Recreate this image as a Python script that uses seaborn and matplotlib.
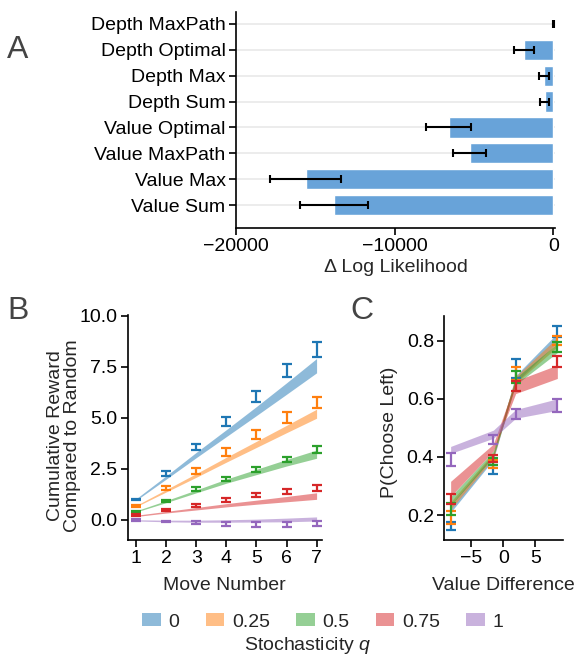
import numpy as np
import pandas as pd
import matplotlib
matplotlib.use("Agg")
import matplotlib.pyplot as plt
from matplotlib.patches import Patch
import seaborn as sns

# ---------------- data ----------------
# Panel A
models = ["Depth MaxPath", "Depth Optimal", "Depth Max", "Depth Sum",
          "Value Optimal", "Value MaxPath", "Value Max", "Value Sum"]
delta_ll = [0, -1860, -610, -560, -6600, -5280, -15620, -13830]
delta_ll_err = [40, 640, 310, 310, 1400, 1060, 2220, 2140]

# Panel B
moves = [1, 2, 3, 4, 5, 6, 7]
q_labels = ["0", "0.25", "0.5", "0.75", "1"]
reward_q0 = [1.01, 2.28, 3.56, 4.80, 6.04, 7.32, 8.34]
reward_q025 = [0.69, 1.57, 2.41, 3.31, 4.18, 5.01, 5.76]
reward_q05 = [0.39, 0.91, 1.52, 2.01, 2.45, 2.95, 3.44]
reward_q075 = [0.23, 0.49, 0.72, 0.98, 1.22, 1.40, 1.55]
reward_q1 = [0.00, -0.08, -0.11, -0.18, -0.24, -0.24, -0.16]
reward_err_q0 = [0.04, 0.11, 0.16, 0.22, 0.25, 0.33, 0.37]
reward_err_q025 = [0.04, 0.08, 0.15, 0.20, 0.22, 0.28, 0.28]
reward_err_q05 = [0.05, 0.05, 0.08, 0.10, 0.12, 0.13, 0.16]
reward_err_q075 = [0.05, 0.07, 0.08, 0.10, 0.11, 0.12, 0.15]
reward_err_q1 = [0.03, 0.04, 0.08, 0.10, 0.12, 0.12, 0.12]
model_q0 = [1.00, 2.08, 3.18, 4.25, 5.33, 6.43, 7.55]
model_q025 = [0.68, 1.43, 2.18, 2.95, 3.70, 4.45, 5.20]
model_q05 = [0.42, 0.90, 1.40, 1.90, 2.35, 2.80, 3.22]
model_q075 = [0.20, 0.38, 0.55, 0.72, 0.87, 1.02, 1.17]
model_q1 = [-0.02, -0.05, -0.06, -0.05, -0.03, 0.00, 0.05]
model_w_q0 = [0.04, 0.08, 0.13, 0.17, 0.22, 0.28, 0.35]
model_w_q025 = [0.03, 0.06, 0.09, 0.12, 0.15, 0.18, 0.22]
model_w_q05 = [0.03, 0.05, 0.07, 0.10, 0.13, 0.16, 0.20]
model_w_q075 = [0.03, 0.04, 0.06, 0.08, 0.10, 0.13, 0.16]
model_w_q1 = [0.03, 0.04, 0.05, 0.06, 0.07, 0.09, 0.10]

# Panel C
value_diff = [-8.23, -1.56, 1.93, 8.44]
pleft_q0 = [0.163, 0.356, 0.703, 0.831]
pleft_q025 = [0.192, 0.376, 0.688, 0.801]
pleft_q05 = [0.220, 0.383, 0.675, 0.778]
pleft_q075 = [0.256, 0.395, 0.645, 0.728]
pleft_q1 = [0.390, 0.460, 0.549, 0.578]
pleft_err_q0 = [0.014, 0.016, 0.033, 0.019]
pleft_err_q025 = [0.023, 0.013, 0.023, 0.016]
pleft_err_q05 = [0.020, 0.012, 0.020, 0.018]
pleft_err_q075 = [0.018, 0.012, 0.017, 0.019]
pleft_err_q1 = [0.022, 0.015, 0.017, 0.022]
pmodel_q0 = [0.222, 0.400, 0.668, 0.810]
pmodel_q025 = [0.232, 0.405, 0.665, 0.795]
pmodel_q05 = [0.248, 0.410, 0.660, 0.775]
pmodel_q075 = [0.290, 0.432, 0.640, 0.693]
pmodel_q1 = [0.424, 0.478, 0.548, 0.580]
pmodel_w_q0 = [0.013, 0.010, 0.012, 0.016]
pmodel_w_q025 = [0.013, 0.010, 0.012, 0.016]
pmodel_w_q05 = [0.015, 0.010, 0.012, 0.016]
pmodel_w_q075 = [0.026, 0.012, 0.022, 0.023]
pmodel_w_q1 = [0.012, 0.014, 0.015, 0.020]

# ---------------- style ----------------
sns.set_style("ticks")
plt.rcParams["font.family"] = ["Liberation Sans", "DejaVu Sans"]
plt.rcParams["mathtext.fontset"] = "custom"
plt.rcParams["mathtext.it"] = "Liberation Sans:italic"
plt.rcParams["mathtext.rm"] = "Liberation Sans"
plt.rcParams["font.size"] = 14
plt.rcParams["axes.linewidth"] = 1.2
plt.rcParams["xtick.major.width"] = 1.2
plt.rcParams["ytick.major.width"] = 1.2
plt.rcParams["xtick.major.size"] = 5
plt.rcParams["ytick.major.size"] = 5
plt.rcParams["xtick.major.pad"] = 2.5
plt.rcParams["ytick.major.pad"] = 2.5
plt.rcParams["xtick.labelsize"] = 14
plt.rcParams["ytick.labelsize"] = 14
plt.rcParams["axes.labelsize"] = 14
plt.rcParams["axes.edgecolor"] = "black"
plt.rcParams["xtick.color"] = "black"
plt.rcParams["ytick.color"] = "black"

colors = sns.color_palette("tab10", 5)
W, H = 575, 657
fig = plt.figure(figsize=(W / 100, H / 100), dpi=100)


def ax_px(x0, y0, x1, y1):
    return fig.add_axes([x0 / W, 1 - y1 / H, (x1 - x0) / W, (y1 - y0) / H])


# ---------------- Panel A ----------------
axA = ax_px(236, 11.7, 555, 227.7)
dfA = pd.DataFrame({"model": models, "dll": delta_ll})
sns.barplot(data=dfA, x="dll", y="model", orient="h", color="#68a3d9",
            saturation=1, width=0.78, errorbar=None, ax=axA, zorder=2)
axA.errorbar(delta_ll, np.arange(len(models)), xerr=delta_ll_err, fmt="none",
             ecolor="black", elinewidth=1.5, capsize=3, capthick=1.5, zorder=3)
axA.grid(axis="y", color="#ebebeb", lw=1.3, zorder=0)
axA.set_axisbelow(True)
axA.set_xlim(-20000, 100)
axA.set_ylim(7.87, -0.47)
axA.set_xticks([-20000, -10000, 0])
axA.set_xlabel("Δ Log Likelihood", labelpad=3)
axA.set_ylabel("")
sns.despine(ax=axA)

# ---------------- Panel B ----------------
axB = ax_px(127.7, 315, 321.7, 540)
rewards = [reward_q0, reward_q025, reward_q05, reward_q075, reward_q1]
rewards_err = [reward_err_q0, reward_err_q025, reward_err_q05, reward_err_q075, reward_err_q1]
models_b = [model_q0, model_q025, model_q05, model_q075, model_q1]
models_bw = [model_w_q0, model_w_q025, model_w_q05, model_w_q075, model_w_q1]
for c, r, re, m, mw in zip(colors, rewards, rewards_err, models_b, models_bw):
    m = np.array(m); mw = np.array(mw)
    axB.fill_between(moves, m - mw, m + mw, color=c, alpha=0.5, lw=0)
    axB.errorbar(moves, r, yerr=re, fmt="none", ecolor=c, elinewidth=1.6,
                 capsize=3.5, capthick=1.6)
axB.set_xlim(0.72, 7.17)
axB.set_ylim(-0.98, 10.03)
axB.set_xticks(moves)
axB.set_yticks([0, 2.5, 5, 7.5, 10])
axB.set_yticklabels(["0.0", "2.5", "5.0", "7.5", "10.0"])
axB.set_xlabel("Move Number", labelpad=7)
axB.set_ylabel("Cumulative Reward\nCompared to Random", linespacing=1.0)
axB.yaxis.set_label_coords(-0.241, 0.462)
sns.despine(ax=axB)

# ---------------- Panel C ----------------
axC = ax_px(444.3, 315.7, 563.3, 540)
pleft = [pleft_q0, pleft_q025, pleft_q05, pleft_q075, pleft_q1]
pleft_err = [pleft_err_q0, pleft_err_q025, pleft_err_q05, pleft_err_q075, pleft_err_q1]
pmodel = [pmodel_q0, pmodel_q025, pmodel_q05, pmodel_q075, pmodel_q1]
pmodel_w = [pmodel_w_q0, pmodel_w_q025, pmodel_w_q05, pmodel_w_q075, pmodel_w_q1]
for c, p, pe, m, mw in zip(colors, pleft, pleft_err, pmodel, pmodel_w):
    m = np.array(m); mw = np.array(mw)
    axC.fill_between(value_diff, m - mw, m + mw, color=c, alpha=0.5, lw=0)
for c, p, pe in zip(colors, pleft, pleft_err):
    axC.errorbar(value_diff, p, yerr=pe, fmt="none", ecolor=c, elinewidth=1.6,
                 capsize=3.5, capthick=1.6)
axC.set_xlim(-9.22, 9.37)
axC.set_ylim(0.114, 0.886)
axC.set_xticks([-5, 0, 5])
axC.set_yticks([0.2, 0.4, 0.6, 0.8])
axC.set_xlabel("Value Difference", labelpad=7)
axC.set_ylabel("P(Choose Left)")
axC.yaxis.set_label_coords(-0.387, 0.479)
sns.despine(ax=axC)

# ---------------- panel letters ----------------
for letter, x, y in [("A", 7, 50), ("B", 7, 311), ("C", 350, 311)]:
    fig.text(x / W, 1 - y / H, letter, fontsize=23, color="#444444",
             ha="left", va="center")

# ---------------- legend ----------------
handles = [Patch(facecolor=c, alpha=0.5, edgecolor="none") for c in colors]
fig.legend(handles, q_labels, loc="center", ncol=5,
           bbox_to_anchor=(323 / W, 1 - 622 / H), frameon=False,
           handlelength=0.95, handleheight=0.62, handletextpad=0.4,
           columnspacing=1.35, fontsize=14, borderaxespad=0, borderpad=0)
fig.text(308 / W, 1 - 645 / H, "Stochasticity $q$", ha="center", va="center",
         fontsize=14)

fig.savefig("out.png", dpi=100)
